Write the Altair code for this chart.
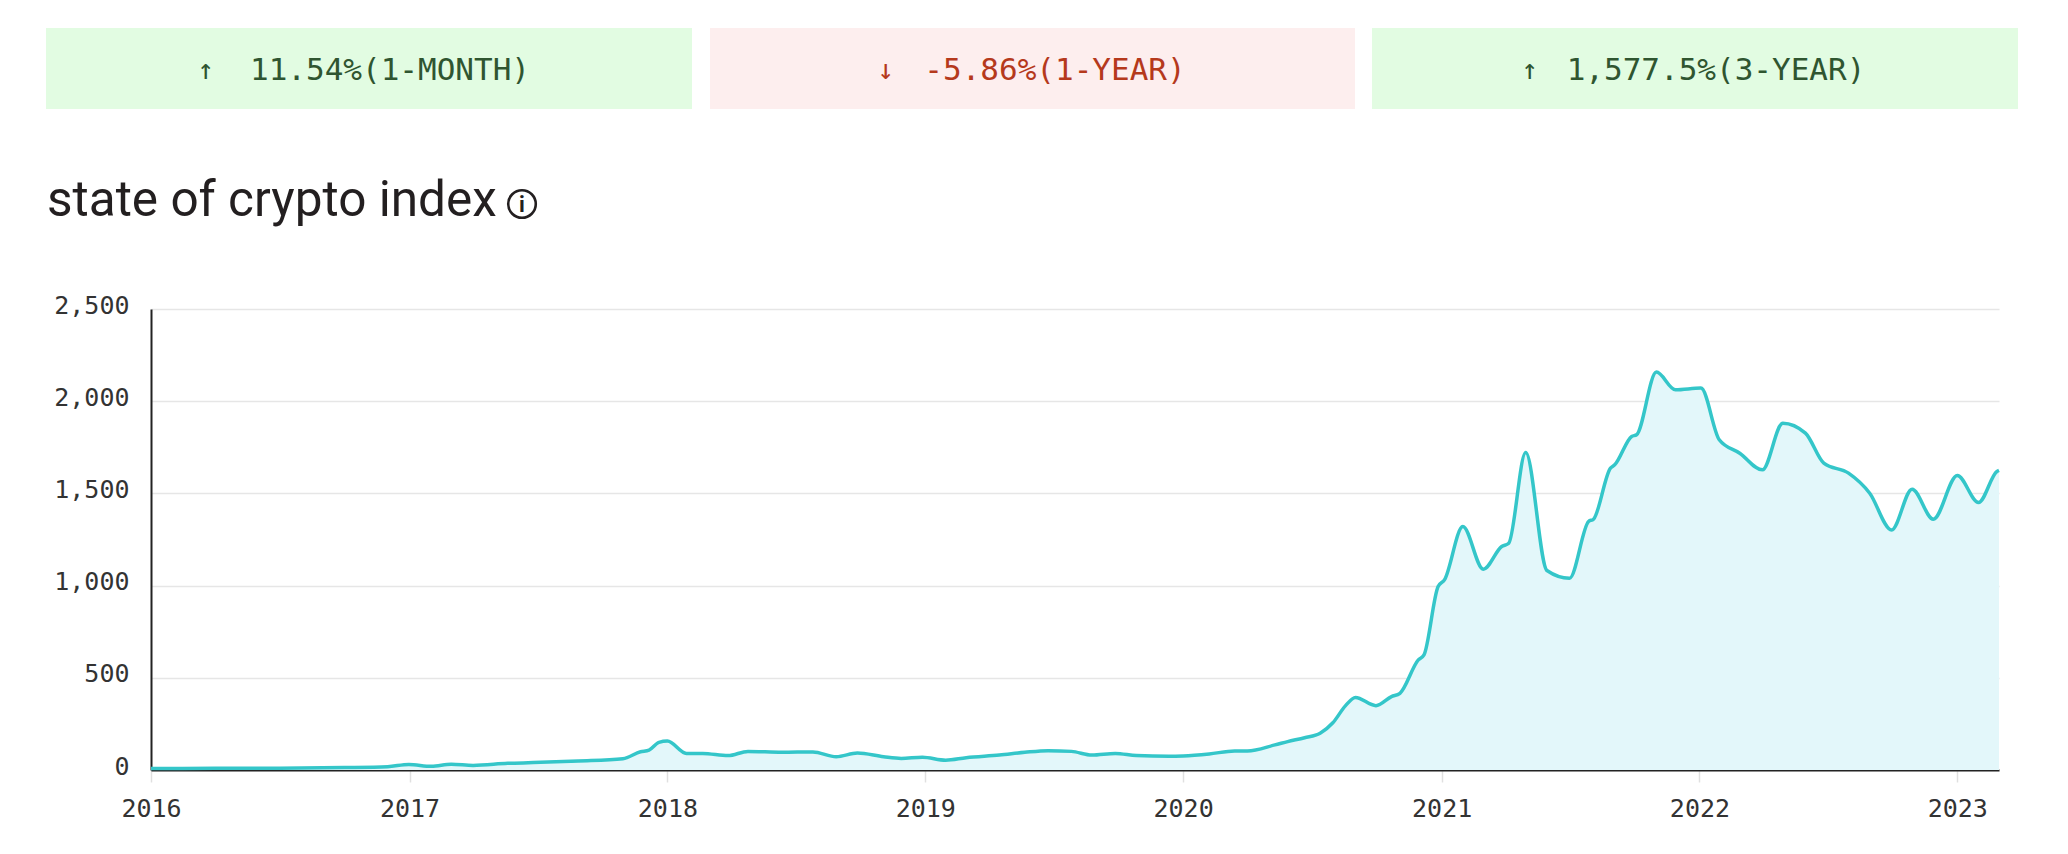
import altair as alt
import pandas as pd

# ---- series ----
dates = [
    "2016-01-01", "2016-04-01", "2016-07-01", "2016-10-01", "2016-12-01", "2016-12-31",
    "2017-02-01", "2017-03-01", "2017-04-01", "2017-05-20", "2017-06-25", "2017-08-28",
    "2017-10-30", "2017-11-24", "2017-12-06", "2017-12-20", "2018-01-01", "2018-01-28",
    "2018-02-20", "2018-03-28", "2018-04-25", "2018-06-12", "2018-07-26", "2018-08-28",
    "2018-09-27", "2018-11-03", "2018-11-28", "2018-12-28", "2019-01-30", "2019-02-28",
    "2019-04-16", "2019-05-22", "2019-06-24", "2019-07-27", "2019-08-25", "2019-09-27",
    "2019-10-27", "2019-12-12", "2020-01-01", "2020-02-07", "2020-03-14", "2020-04-01",
    "2020-05-10", "2020-05-28", "2020-06-21", "2020-07-13", "2020-07-31", "2020-08-18",
    "2020-09-01", "2020-09-30", "2020-10-22", "2020-11-03", "2020-11-29", "2020-12-07",
    "2020-12-27", "2021-01-05", "2021-01-31", "2021-03-01", "2021-03-27", "2021-04-06",
    "2021-04-30", "2021-05-30", "2021-07-01", "2021-07-28", "2021-08-04", "2021-08-28",
    "2021-09-03", "2021-09-27", "2021-10-04", "2021-11-01", "2021-11-28", "2022-01-03",
    "2022-01-29", "2022-02-27", "2022-03-31", "2022-04-29", "2022-05-31", "2022-06-26",
    "2022-07-31", "2022-08-30", "2022-09-30", "2022-10-29", "2022-11-28", "2023-01-01",
    "2023-01-31", "2023-02-26", "2023-03-01",
]
values = [
    8, 9, 10, 13, 18, 30,
    20, 31, 25, 36, 40, 49,
    61, 99, 108, 150, 157, 90,
    90, 78, 101, 96, 98, 72,
    92, 72, 63, 69, 53, 67,
    81, 96, 105, 101, 81, 90,
    78, 74, 76, 87, 103, 103,
    136, 154, 175, 199, 256, 349,
    393, 349, 398, 416, 597, 624,
    995, 1031, 1320, 1089, 1212, 1230,
    1722, 1082, 1040, 1348, 1360, 1637,
    1655, 1809, 1818, 2158, 2062, 2071,
    1791, 1718, 1628, 1881, 1827, 1664,
    1610, 1501, 1302, 1523, 1360, 1597,
    1451, 1619, 1625,
]

y_ticks = [0, 500, 1000, 1500, 2000, 2500]
x_years = [2016, 2017, 2018, 2019, 2020, 2021, 2022, 2023]

stat_arrows = ["↑", "↓", "↑"]
stat_labels = ["11.54%(1-MONTH)", "-5.86%(1-YEAR)", "1,577.5%(3-YEAR)"]
title_text = "state of crypto index"

df = pd.DataFrame({"date": dates, "value": values})

MONO = "DejaVu Sans Mono"
LINE = "#34c6c9"
FILL = "#e3f7fa"

x_enc = alt.X(
    "date:T",
    scale=alt.Scale(
        type="utc",
        domain=[alt.DateTime(year=2016, month=1, date=1, utc=True),
                alt.DateTime(year=2023, month=3, date=1, utc=True)],
    ),
    axis=alt.Axis(
        title=None,
        values=[alt.DateTime(year=y, month=1, date=1, utc=True) for y in x_years],
        format="%Y",
        grid=False,
        domain=True,
        domainColor="#222222",
        domainWidth=2,
        ticks=True,
        tickColor="#e0e0e0",
        tickWidth=1.5,
        tickSize=12,
        labelFont=MONO,
        labelFontSize=25,
        labelColor="#333333",
        labelPadding=14,
        labelFlush=False,
    ),
)
y_enc = alt.Y(
    "value:Q",
    scale=alt.Scale(domain=[0, 2500], nice=False),
    axis=alt.Axis(
        title=None,
        values=y_ticks,
        format=",d",
        grid=True,
        gridColor="#e6e6e6",
        gridWidth=1.5,
        domain=True,
        domainColor="#222222",
        domainWidth=2,
        ticks=False,
        labelFont=MONO,
        labelFontSize=25,
        labelColor="#333333",
        labelPadding=22,
        labelOffset=-4,
    ),
)

area = alt.Chart(df).mark_area(color=FILL, opacity=1, interpolate="monotone").encode(
    x=x_enc, y=y_enc
)
line = alt.Chart(df).mark_line(color=LINE, strokeWidth=3.5, interpolate="monotone").encode(
    x="date:T", y="value:Q"
)

layers = [area, line]

# stat boxes above the chart: (box x0, box x1, arrow centre, text centre, bg, fg)
box_specs = [
    (-105, 541, 55, 239, "#e2fce2", "#2f5530"),
    (559, 1204, 735, 904, "#fdeeee", "#b5391c"),
    (1221, 1867, 1379, 1565, "#e2fce2", "#2f5530"),
]
for arrow, label, (x0, x1, ax, tx, bg, fg) in zip(stat_arrows, stat_labels, box_specs):
    d = pd.DataFrame({"label": [label], "arrow": [arrow]})
    rect = alt.Chart(d).mark_rect(color=bg).encode(
        x=alt.value(x0), x2=alt.value(x1), y=alt.value(-281), y2=alt.value(-200)
    )
    arr = alt.Chart(d).mark_text(
        font=MONO, fontSize=28, color=fg, align="center", baseline="middle"
    ).encode(text="arrow:N", x=alt.value(ax), y=alt.value(-238))
    txt = alt.Chart(d).mark_text(
        font=MONO, fontSize=31, color=fg, align="center", baseline="middle"
    ).encode(text="label:N", x=alt.value(tx), y=alt.value(-238))
    layers += [rect, arr, txt]

tdf = pd.DataFrame({"t": [title_text]})
title = alt.Chart(tdf).mark_text(
    font="Roboto", fontSize=49.5, color="#231f20", align="left", baseline="alphabetic"
).encode(text="t:N", x=alt.value(-104), y=alt.value(-93))
icon_circle = alt.Chart(tdf).mark_point(
    shape="circle", filled=False, size=760, color="#231f20", strokeWidth=2.6, opacity=1
).encode(x=alt.value(371), y=alt.value(-105))
icon_i = alt.Chart(tdf).mark_text(
    text="i", font="Roboto", fontSize=22, fontWeight="bold", color="#231f20",
    align="center", baseline="middle"
).encode(x=alt.value(371), y=alt.value(-104))
layers += [title, icon_circle, icon_i]

chart = alt.layer(*layers).properties(
    width=1848,
    height=461,
    autosize=alt.AutoSizeParams(type="none"),
    padding={"left": 143, "top": 301, "right": 50, "bottom": 70},
    background="white",
).configure_view(stroke=None)

chart.save("out.html", embed_options={"renderer": "svg", "actions": False})
